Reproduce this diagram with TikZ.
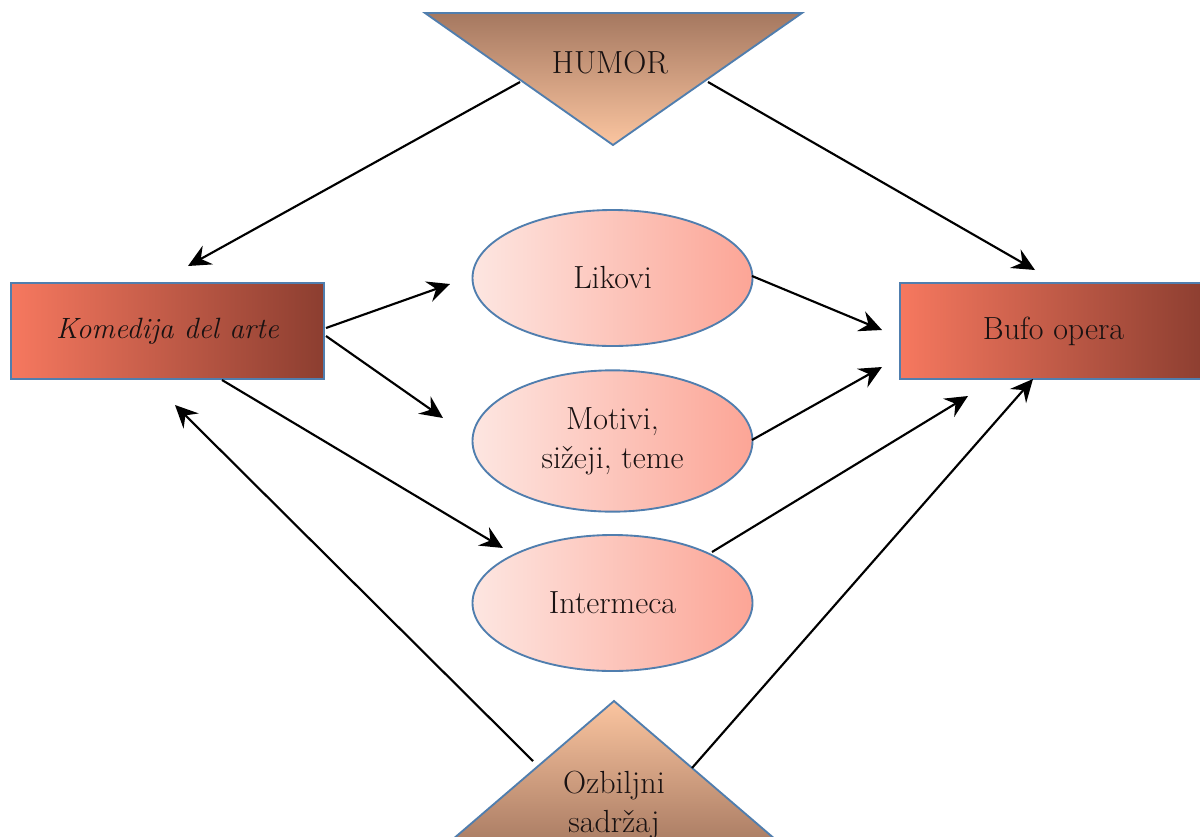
\documentclass[tikz,border=0pt]{standalone}
\usetikzlibrary{arrows.meta,shapes.geometric}
\definecolor{bord}{RGB}{80,126,174}
\definecolor{recL}{RGB}{246,120,95}
\definecolor{recR}{RGB}{140,62,48}
\definecolor{ellL}{RGB}{253,230,225}
\definecolor{ellR}{RGB}{252,165,150}
\definecolor{triD}{RGB}{165,120,96}
\definecolor{triL}{RGB}{251,197,160}
\definecolor{txt}{RGB}{25,18,18}
\begin{document}
\begin{tikzpicture}[x=0.75pt,y=-0.75pt,
  lbl/.style={font=\fontsize{24}{29}\selectfont, text=txt, align=center},
  recbox/.style={draw=bord, line width=1.6pt, left color=recL, right color=recR,
    minimum height=72pt, inner sep=0pt, lbl},
  ellbox/.style={ellipse, draw=bord, line width=1.4pt, left color=ellL, right color=ellR,
    minimum width=210pt, minimum height=102pt, inner sep=0pt, lbl},
  tri/.style={draw=bord, line width=1.4pt, line join=miter},
  arr/.style={-{Stealth[length=17pt,width=16pt,inset=6pt]}, line width=1.6pt, black}]
\useasboundingbox (0,0) rectangle (1200,836);

% triangles
\path[tri, top color=triD, bottom color=triL] (425,13) -- (802,13) -- (613,145) -- cycle;
\path[tri, top color=triL, bottom color=triD] (614,701) -- (790,852) -- (438,852) -- cycle;
\node[lbl] (humor) at (610,63) {HUMOR};
\node[lbl] (ozb) at (614,805) {Ozbiljni\\sadržaj};

% boxes
\node[recbox, minimum width=234.75pt, font=\fontsize{22}{28}\selectfont\itshape] (kom) at (167.5,331) {Komedija del arte};
\node[recbox, minimum width=230pt] (bufo) at (1053.5,331) {Bufo opera};

% ellipses
\node[ellbox] (lik) at (612.5,278) {Likovi};
\node[ellbox, minimum height=106pt] (mot) at (612.5,441) {Motivi,\\sižeji, teme};
\node[ellbox] (int) at (612.5,603) {Intermeca};

% arrow end points
\coordinate (hA) at (520,82);
\coordinate (hB) at (708,82);
\coordinate (kT) at (188,266);
\coordinate (bT) at (1035,270);
\coordinate (kR1) at (326,328);
\coordinate (kR2) at (326,336);
\coordinate (kB) at (222,380);
\coordinate (likIn) at (450,284);
\coordinate (motIn) at (443,418);
\coordinate (intIn) at (503,548);
\coordinate (likOut) at (752,276);
\coordinate (motOut) at (752,440);
\coordinate (intOut) at (712,552);
\coordinate (b1) at (882,330);
\coordinate (b2) at (882,367);
\coordinate (b3) at (968,396);
\coordinate (b4) at (1033,379);
\coordinate (oR) at (692,768);
\coordinate (oL) at (533,761);
\coordinate (kBin) at (175,405);

\draw[arr] (hA) -- (kT);
\draw[arr] (hB) -- (bT);
\draw[arr] (kR1) -- (likIn);
\draw[arr] (kR2) -- (motIn);
\draw[arr] (kB) -- (intIn);
\draw[arr] (likOut) -- (b1);
\draw[arr] (motOut) -- (b2);
\draw[arr] (intOut) -- (b3);
\draw[arr] (oR) -- (b4);
\draw[arr] (oL) -- (kBin);
\end{tikzpicture}
\end{document}
